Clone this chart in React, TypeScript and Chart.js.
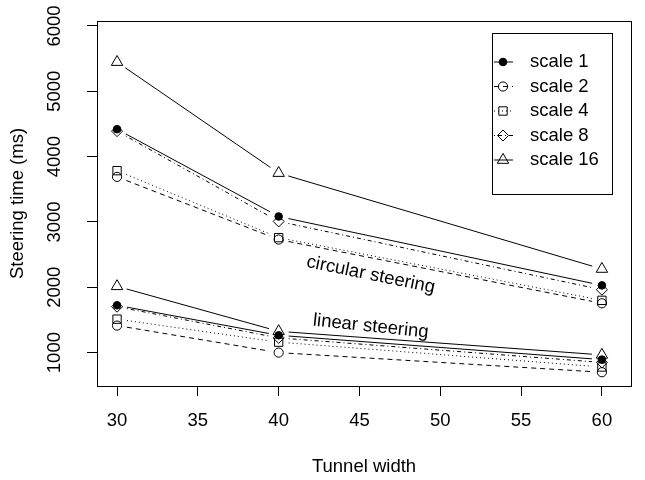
import React, { useEffect, useRef } from "react";
import { Chart, registerables } from "chart.js";

Chart.register(...registerables);

// ---- data ----
const tunnelWidths = [30, 40, 60];
const seriesNames = ["scale 1", "scale 2", "scale 4", "scale 8", "scale 16"];

const circularScale1 = [4420, 3084, 2029];
const circularScale2 = [3690, 2730, 1755];
const circularScale4 = [3785, 2760, 1800];
const circularScale8 = [4390, 3008, 1963];
const circularScale16 = [5447, 3748, 2280];

const linearScale1 = [1724, 1265, 893];
const linearScale2 = [1414, 1000, 700];
const linearScale4 = [1512, 1160, 780];
const linearScale8 = [1703, 1225, 850];
const linearScale16 = [2015, 1326, 965];

const xTickValues = [30, 35, 40, 45, 50, 55, 60];
const yTickValues = [1000, 2000, 3000, 4000, 5000, 6000];

const annotationTexts = ["circular steering", "linear steering"];
const annotationX = [45.7, 45.7];
const annotationY = [2190, 1400];
const annotationAngles = [11.5, 6];

// ---- styles ----
const FONT = "'Liberation Sans', Arial, Helvetica, sans-serif";
const FS = 18.5;
const markerStyles = ["circle", "circle", "rect", "rectRot", "triangle"];
const markerRadius = [3.8, 4.6, 5.9, 5.5, 6.6];
const markerFill = ["#000", "rgba(0,0,0,0)", "rgba(0,0,0,0)", "rgba(0,0,0,0)", "rgba(0,0,0,0)"];
const dashes: number[][] = [[], [5, 4], [1, 3], [1, 3, 4, 3], []];
const GAP = 10;

function drawMarker(ctx: CanvasRenderingContext2D, style: string, x: number, y: number, r: number, fill: string) {
  ctx.save();
  ctx.setLineDash([]);
  ctx.lineWidth = 1;
  ctx.strokeStyle = "#000";
  ctx.fillStyle = fill;
  ctx.beginPath();
  if (style === "circle") {
    ctx.arc(x, y, r, 0, Math.PI * 2);
  } else if (style === "rect") {
    const s = Math.SQRT1_2 * r;
    ctx.rect(x - s, y - s, 2 * s, 2 * s);
  } else if (style === "rectRot") {
    ctx.moveTo(x, y - r);
    ctx.lineTo(x + r, y);
    ctx.lineTo(x, y + r);
    ctx.lineTo(x - r, y);
    ctx.closePath();
  } else if (style === "triangle") {
    let rad = 0;
    ctx.moveTo(x + Math.sin(rad) * r, y - Math.cos(rad) * r);
    rad += (2 * Math.PI) / 3;
    ctx.lineTo(x + Math.sin(rad) * r, y - Math.cos(rad) * r);
    rad += (2 * Math.PI) / 3;
    ctx.lineTo(x + Math.sin(rad) * r, y - Math.cos(rad) * r);
    ctx.closePath();
  }
  ctx.fill();
  ctx.stroke();
  ctx.restore();
}

const gapLinesPlugin = {
  id: "gapLines",
  beforeDatasetsDraw(chart: any) {
    const ctx = chart.ctx as CanvasRenderingContext2D;
    chart.data.datasets.forEach((ds: any, i: number) => {
      const meta = chart.getDatasetMeta(i);
      const pts = meta.data;
      ctx.save();
      ctx.strokeStyle = "#000";
      ctx.lineWidth = 1;
      ctx.setLineDash(ds.borderDash || []);
      for (let k = 0; k < pts.length - 1; k++) {
        const a = pts[k];
        const b = pts[k + 1];
        const dx = b.x - a.x;
        const dy = b.y - a.y;
        const len = Math.hypot(dx, dy);
        const ux = dx / len;
        const uy = dy / len;
        ctx.beginPath();
        ctx.moveTo(a.x + ux * GAP, a.y + uy * GAP);
        ctx.lineTo(b.x - ux * GAP, b.y - uy * GAP);
        ctx.stroke();
      }
      ctx.restore();
    });
  },
};

const framePlugin = {
  id: "frameAndNotes",
  afterDraw(chart: any) {
    const ctx = chart.ctx as CanvasRenderingContext2D;
    const { left, top, right, bottom } = chart.chartArea;
    ctx.save();
    ctx.strokeStyle = "#000";
    ctx.lineWidth = 1;
    ctx.setLineDash([]);
    ctx.strokeRect(Math.round(left) + 0.5, Math.round(top) + 0.5, Math.round(right - left), Math.round(bottom - top));

    // text annotations placed in data coordinates
    const xs = chart.scales.x;
    const ys = chart.scales.y;
    ctx.fillStyle = "#000";
    ctx.font = `${FS}px ${FONT}`;
    ctx.textAlign = "center";
    ctx.textBaseline = "middle";
    annotationTexts.forEach((t, i) => {
      const px = xs.getPixelForValue(annotationX[i]);
      const py = ys.getPixelForValue(annotationY[i]);
      ctx.save();
      ctx.translate(px, py);
      ctx.rotate((annotationAngles[i] * Math.PI) / 180);
      ctx.fillText(t, 0, 0);
      ctx.restore();
    });

    // legend
    const lx = 492.5;
    const ly = 33.5;
    const lw = 120;
    const lh = 161;
    ctx.fillStyle = "#fff";
    ctx.fillRect(lx, ly, lw, lh);
    ctx.strokeRect(lx, ly, lw, lh);
    seriesNames.forEach((name, i) => {
      const y = 62 + i * 24.5;
      ctx.save();
      ctx.setLineDash(dashes[i]);
      ctx.beginPath();
      ctx.moveTo(494, y);
      ctx.lineTo(513, y);
      ctx.stroke();
      ctx.restore();
      drawMarker(ctx, markerStyles[i], 503, y, markerRadius[i], markerFill[i]);
      ctx.fillStyle = "#000";
      ctx.textAlign = "left";
      ctx.textBaseline = "middle";
      ctx.font = `${FS}px ${FONT}`;
      ctx.fillText(name, 530, y);
    });
    ctx.restore();
  },
};

function makeDataset(label: string, values: number[], i: number) {
  return {
    label,
    data: values.map((v, k) => ({ x: tunnelWidths[k], y: v })),
    showLine: false,
    borderColor: "#000",
    borderWidth: 1,
    borderDash: dashes[i],
    pointStyle: markerStyles[i],
    pointRadius: markerRadius[i],
    pointBackgroundColor: markerFill[i],
    pointBorderColor: "#000",
    pointBorderWidth: 1,
  };
}

export default function App() {
  const canvasRef = useRef<HTMLCanvasElement | null>(null);

  useEffect(() => {
    if (!canvasRef.current) return;
    const circular = [circularScale1, circularScale2, circularScale4, circularScale8, circularScale16];
    const linear = [linearScale1, linearScale2, linearScale4, linearScale8, linearScale16];
    const datasets: any[] = [];
    seriesNames.forEach((n, i) => datasets.push(makeDataset(n + " circular", circular[i], i)));
    seriesNames.forEach((n, i) => datasets.push(makeDataset(n + " linear", linear[i], i)));

    const chart = new Chart(canvasRef.current, {
      type: "scatter",
      data: { datasets },
      plugins: [gapLinesPlugin, framePlugin],
      options: {
        animation: false,
        responsive: true,
        maintainAspectRatio: false,
        layout: { padding: { top: 21, right: 14, left: 0, bottom: 0 } },
        plugins: {
          legend: { display: false },
          tooltip: { enabled: false },
        },
        scales: {
          x: {
            type: "linear",
            min: 28.76,
            max: 61.8,
            afterBuildTicks: (scale: any) => {
              scale.ticks = xTickValues.map((v) => ({ value: v }));
            },
            afterFit: (scale: any) => {
              scale.height = 94;
              scale.paddingLeft = 0;
              scale.paddingRight = 0;
            },
            border: { display: false },
            grid: { display: true, drawOnChartArea: false, drawTicks: true, tickLength: 10, color: "#000", lineWidth: 1 },
            ticks: {
              color: "#000",
              font: { family: FONT, size: FS },
              padding: 13.9,
              maxRotation: 0,
              autoSkip: false,
              callback: (v: any) => String(v),
            },
            title: {
              display: true,
              text: "Tunnel width",
              color: "#000",
              font: { family: FONT, size: FS },
              padding: { top: 0, bottom: 1.9 },
            },
          },
          y: {
            type: "linear",
            min: 489,
            max: 6076,
            afterBuildTicks: (scale: any) => {
              scale.ticks = yTickValues.map((v) => ({ value: v }));
            },
            afterFit: (scale: any) => {
              scale.width = 97;
              scale.paddingTop = 0;
              scale.paddingBottom = 0;
            },
            border: { display: false },
            grid: { display: true, drawOnChartArea: false, drawTicks: true, tickLength: 10, color: "#000", lineWidth: 1 },
            ticks: {
              color: "#000",
              font: { family: FONT, size: FS },
              padding: 11.4,
              minRotation: 90,
              maxRotation: 90,
              crossAlign: "center",
              autoSkip: false,
              callback: (v: any) => String(v),
            },
            title: {
              display: true,
              text: "Steering time (ms)",
              color: "#000",
              font: { family: FONT, size: FS },
              padding: { top: 6.9, bottom: 0 },
            },
          },
        },
      } as any,
    });
    return () => chart.destroy();
  }, []);

  return (
    <div style={{ position: "fixed", left: 0, top: 0, width: 645, height: 480, background: "#fff" }}>
      <canvas ref={canvasRef} />
    </div>
  );
}
